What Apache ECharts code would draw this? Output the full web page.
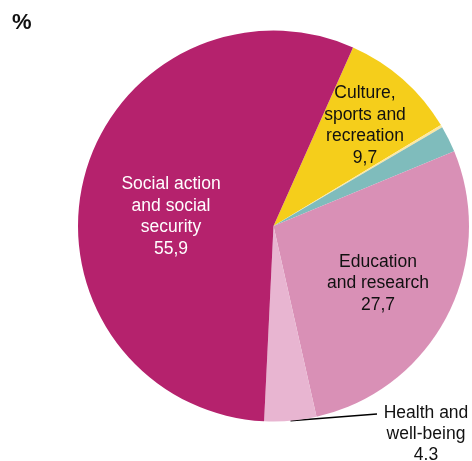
<!DOCTYPE html>
<html>
<head>
<meta charset="utf-8">
<script src="https://cdn.jsdelivr.net/npm/echarts@6/dist/echarts.min.js"></script>
<style>
  html, body { margin: 0; padding: 0; background: #fff; }
  #chart { width: 472px; height: 461px; }
</style>
</head>
<body>
<div id="chart"></div>
<script>
// Spending by function, share of total (%)
const categories = [
  'Culture,\nsports and\nrecreation',
  'Other',
  'Environment',
  'Education\nand research',
  'Health and\nwell-being',
  'Social action\nand social\nsecurity'
];
const values = [9.7, 0.2, 2.2, 27.7, 4.3, 55.9];
const valueLabels = ['9,7', '', '', '27,7', '4.3', '55,9'];
const colors = ['#f5ce1b', '#fbe7a2', '#7fbcbc', '#d990b6', '#e8b5d1', '#b5226d'];
const labelColors = ['#111', '#111', '#111', '#111', '#111', '#ffffff'];
const shownLabels = [true, false, false, true, true, true];

// label centres (px) for each slice
const labelSpots = [[365, 125.5], null, null, [378, 283.5], [426, 434.5], [171, 216.5]];

const chart = echarts.init(document.getElementById('chart'), null, { renderer: 'canvas' });

const data = categories.map((name, i) => ({
  name: name,
  value: values[i],
  itemStyle: { color: colors[i] },
  label: {
    show: shownLabels[i],
    color: labelColors[i],
    lineHeight: i === 4 ? 21 : 21.5,
    formatter: valueLabels[i] ? name + '\n' + valueLabels[i] : name
  },
  labelLine: { show: i === 4 }
}));

chart.setOption({
  animation: false,
  graphic: [{
    type: 'text',
    left: 12,
    top: 12,
    style: { text: '%', font: 'bold 22px "Liberation Sans", Arial, sans-serif', fill: '#111' }
  }],
  series: [{
    type: 'pie',
    center: [273.5, 226],
    radius: [0, 195.5],
    startAngle: 66,
    clockwise: true,
    data: data,
    itemStyle: { borderWidth: 0 },
    label: {
      position: 'outside',
      alignTo: 'none',
      overflow: 'none',
      fontFamily: '"Liberation Sans", Arial, sans-serif',
      fontSize: 17.5,
      lineHeight: 21.5,
      align: 'center'
    },
    labelLine: {
      show: true,
      length: 2,
      length2: 40,
      lineStyle: { color: '#000', width: 1.5 }
    },
    labelLayout: function (params) {
      const spot = labelSpots[params.dataIndex];
      if (!spot) return {};
      const out = { x: spot[0], y: spot[1], align: 'center', verticalAlign: 'middle', width: 200 };
      if (params.dataIndex === 4 && params.labelLinePoints) {
        const p0 = params.labelLinePoints[0];
        const end = [spot[0] - 49, spot[1] - 20.5];
        out.labelLinePoints = [p0, end, end];
      }
      return out;
    }
  }]
});
</script>
</body>
</html>
